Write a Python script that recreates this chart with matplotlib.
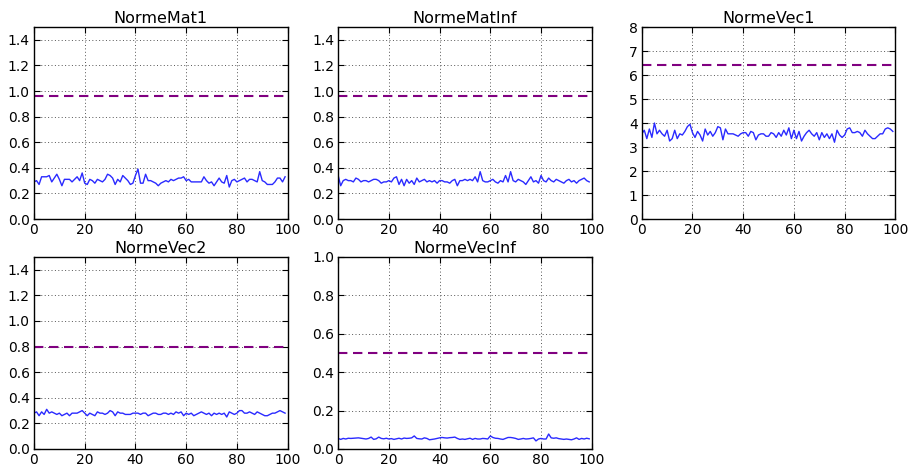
import numpy as np
import matplotlib
matplotlib.use("Agg")
import matplotlib.pyplot as plt

# one value per iteration, 100 iterations
mat1 = [0.29, 0.30, 0.27, 0.33, 0.33, 0.33, 0.34, 0.29, 0.32, 0.35,
        0.31, 0.26, 0.31, 0.31, 0.31, 0.29, 0.31, 0.33, 0.30, 0.36,
        0.28, 0.27, 0.31, 0.30, 0.28, 0.31, 0.30, 0.29, 0.31, 0.35,
        0.34, 0.32, 0.27, 0.31, 0.29, 0.34, 0.32, 0.30, 0.27, 0.28,
        0.34, 0.39, 0.28, 0.28, 0.35, 0.30, 0.30, 0.29, 0.28, 0.26,
        0.28, 0.29, 0.30, 0.29, 0.31, 0.30, 0.31, 0.32, 0.32, 0.33,
        0.30, 0.31, 0.29, 0.29, 0.29, 0.29, 0.29, 0.33, 0.30, 0.28,
        0.29, 0.26, 0.29, 0.32, 0.29, 0.28, 0.34, 0.25, 0.30, 0.31,
        0.29, 0.30, 0.31, 0.32, 0.29, 0.31, 0.31, 0.30, 0.29, 0.37,
        0.30, 0.29, 0.27, 0.27, 0.27, 0.29, 0.32, 0.32, 0.29, 0.33]

matinf = [0.34, 0.26, 0.30, 0.31, 0.30, 0.30, 0.29, 0.32, 0.31, 0.29,
          0.30, 0.30, 0.29, 0.30, 0.31, 0.31, 0.30, 0.28, 0.29, 0.29,
          0.30, 0.29, 0.32, 0.33, 0.27, 0.31, 0.26, 0.31, 0.28, 0.30,
          0.27, 0.32, 0.29, 0.30, 0.31, 0.29, 0.30, 0.29, 0.30, 0.28,
          0.30, 0.30, 0.29, 0.29, 0.28, 0.30, 0.31, 0.26, 0.30, 0.30,
          0.31, 0.30, 0.31, 0.30, 0.33, 0.29, 0.37, 0.30, 0.29, 0.29,
          0.30, 0.31, 0.29, 0.28, 0.30, 0.29, 0.34, 0.29, 0.37, 0.30,
          0.29, 0.31, 0.30, 0.29, 0.27, 0.30, 0.33, 0.29, 0.30, 0.28,
          0.34, 0.30, 0.29, 0.32, 0.30, 0.29, 0.31, 0.30, 0.29, 0.28,
          0.30, 0.31, 0.29, 0.30, 0.28, 0.30, 0.31, 0.32, 0.30, 0.29]

vec1 = [3.55, 3.70, 3.35, 3.75, 3.40, 4.00, 3.55, 3.70, 3.55, 3.45,
        3.70, 3.25, 3.35, 3.70, 3.35, 3.55, 3.50, 3.65, 3.85, 3.95,
        3.60, 3.40, 3.65, 3.50, 3.25, 3.75, 3.50, 3.65, 3.45, 3.60,
        3.85, 3.80, 3.30, 3.75, 3.55, 3.55, 3.55, 3.50, 3.45, 3.55,
        3.60, 3.60, 3.45, 3.65, 3.60, 3.30, 3.50, 3.55, 3.55, 3.45,
        3.45, 3.60, 3.55, 3.40, 3.60, 3.45, 3.70, 3.50, 3.80, 3.35,
        3.70, 3.35, 3.65, 3.25, 3.45, 3.60, 3.70, 3.55, 3.45, 3.60,
        3.30, 3.60, 3.40, 3.55, 3.35, 3.55, 3.20, 3.70, 3.50, 3.40,
        3.50, 3.75, 3.80, 3.60, 3.60, 3.65, 3.60, 3.45, 3.70, 3.55,
        3.45, 3.35, 3.35, 3.45, 3.55, 3.55, 3.75, 3.80, 3.75, 3.65]

vec2 = [0.28, 0.29, 0.26, 0.29, 0.27, 0.31, 0.28, 0.29, 0.28, 0.27,
        0.28, 0.26, 0.27, 0.28, 0.26, 0.28, 0.28, 0.28, 0.29, 0.30,
        0.28, 0.26, 0.28, 0.27, 0.26, 0.29, 0.28, 0.28, 0.27, 0.28,
        0.30, 0.29, 0.26, 0.29, 0.28, 0.28, 0.27, 0.27, 0.27, 0.28,
        0.28, 0.28, 0.27, 0.28, 0.28, 0.26, 0.27, 0.28, 0.28, 0.27,
        0.27, 0.28, 0.28, 0.27, 0.28, 0.27, 0.29, 0.28, 0.29, 0.26,
        0.28, 0.27, 0.28, 0.26, 0.27, 0.28, 0.29, 0.28, 0.27, 0.28,
        0.26, 0.28, 0.27, 0.28, 0.27, 0.28, 0.25, 0.29, 0.28, 0.27,
        0.28, 0.30, 0.30, 0.28, 0.28, 0.29, 0.28, 0.27, 0.29, 0.28,
        0.27, 0.26, 0.26, 0.27, 0.28, 0.28, 0.29, 0.30, 0.29, 0.28]

vecinf = [0.055, 0.050, 0.055, 0.052, 0.056, 0.055, 0.056, 0.057, 0.058, 0.056,
          0.054, 0.052, 0.055, 0.062, 0.050, 0.053, 0.062, 0.055, 0.053, 0.056,
          0.052, 0.054, 0.050, 0.053, 0.056, 0.052, 0.057, 0.055, 0.056, 0.058,
          0.068, 0.055, 0.053, 0.052, 0.058, 0.055, 0.048, 0.050, 0.052, 0.055,
          0.058, 0.060, 0.058, 0.057, 0.059, 0.060, 0.062, 0.055, 0.050, 0.052,
          0.050, 0.053, 0.056, 0.050, 0.055, 0.052, 0.052, 0.055, 0.054, 0.052,
          0.068, 0.060, 0.056, 0.055, 0.052, 0.050, 0.055, 0.060, 0.060, 0.058,
          0.055, 0.050, 0.052, 0.055, 0.052, 0.053, 0.055, 0.058, 0.042, 0.052,
          0.055, 0.052, 0.052, 0.078, 0.058, 0.056, 0.058, 0.054, 0.052, 0.050,
          0.052, 0.050, 0.048, 0.052, 0.058, 0.050, 0.055, 0.052, 0.056, 0.053]

titles = ['NormeMat1', 'NormeMatInf', 'NormeVec1', 'NormeVec2', 'NormeVecInf']
series = [mat1, matinf, vec1, vec2, vecinf]
bounds = [0.96, 0.96, 6.4, 0.8, 0.5]
ylims = [1.5, 1.5, 8, 1.5, 1.0]
ysteps = [0.2, 0.2, 1, 0.2, 0.2]

fig = plt.figure(figsize=(9.09, 4.66), dpi=100)

lefts = [0.0374, 0.372, 0.706]
bottoms = [0.530, 0.0365]
w, h = 0.279, 0.412

for k in range(5):
    row, col = divmod(k, 3)
    ax = fig.add_axes([lefts[col], bottoms[row], w, h])
    y = series[k]
    ax.plot(range(len(y)), y, color='#2a2aff', lw=1.0)
    ax.axhline(bounds[k], color='purple', lw=1.5, linestyle='--', dashes=(4.5, 2.7))
    ax.set_xlim(0, 100)
    ax.set_ylim(0, ylims[k])
    ax.set_xticks(np.arange(0, 101, 20))
    ax.set_yticks(np.arange(0, ylims[k] + 1e-9, ysteps[k]))
    if ysteps[k] < 1:
        ax.yaxis.set_major_formatter(matplotlib.ticker.FormatStrFormatter('%.1f'))
    ax.grid(True, color='#555555', linestyle=(0, (1, 2.5)), lw=0.7)
    ax.tick_params(direction='in', top=True, right=True, length=4, labelsize=10, pad=3)
    ax.set_title(titles[k], fontsize=11.5, pad=3)
    for s in ax.spines.values():
        s.set_linewidth(1.0)

plt.savefig('out.png', dpi=100)
